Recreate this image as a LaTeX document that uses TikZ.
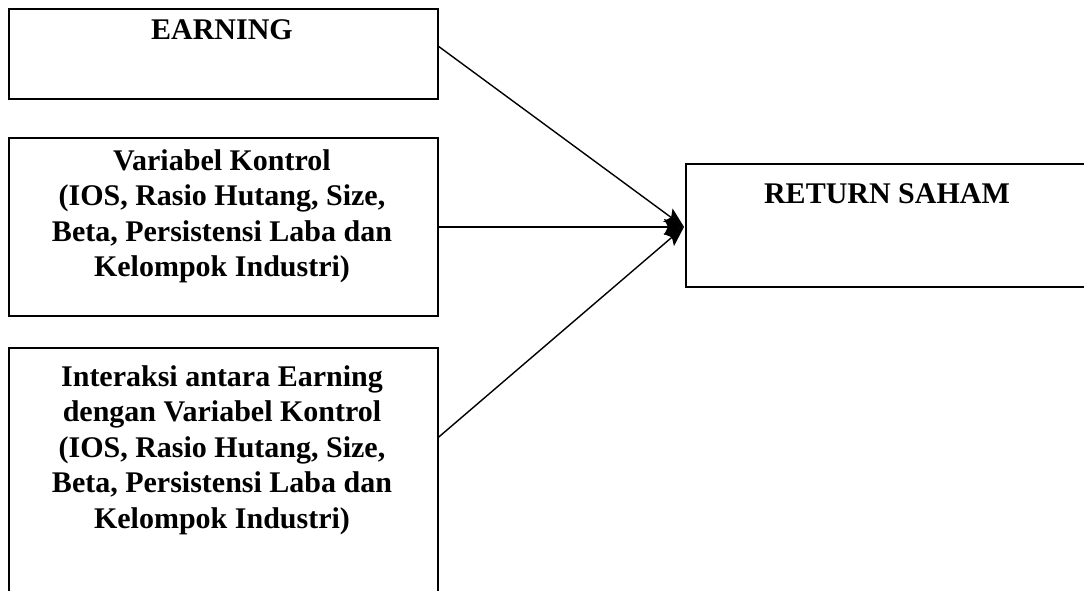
\documentclass[tikz,border=0pt]{standalone}
\usepackage{fontspec}
\setmainfont{Liberation Serif}
\usetikzlibrary{arrows.meta,calc}
\begin{document}
\begin{tikzpicture}[x=1pt,y=-1pt,
  boxline/.style={draw, line width=1.8pt, inner sep=0pt, anchor=north west},
  lbl/.style={anchor=north, inner sep=0pt, align=center, font=\bfseries\fontsize{30}{35.5}\selectfont},
  conn/.style={line width=1.4pt, -{Stealth[length=20pt,width=16pt,inset=4pt]}}]
\useasboundingbox (0,0) rectangle (1084,591);
\begin{scope}
\clip (0,0) rectangle (1084,591);
\node[boxline, minimum width=429pt, minimum height=90pt] (earn) at (8,8) {};
\node[boxline, minimum width=429pt, minimum height=178pt] (var) at (8,137) {};
\node[boxline, minimum width=429pt, minimum height=270pt] (inter) at (8,347) {};
\node[boxline, minimum width=420pt, minimum height=123pt] (ret) at (685,163) {};
\end{scope}
\node[lbl] (tearn) at (222,19) {EARNING};
\node[lbl] (tvar) at (222,149) {Variabel Kontrol\\(IOS, Rasio Hutang, Size,\\Beta, Persistensi Laba dan\\Kelompok Industri)};
\node[lbl] (tinter) at (222,365) {Interaksi antara Earning\\dengan Variabel Kontrol\\(IOS, Rasio Hutang, Size,\\Beta, Persistensi Laba dan\\Kelompok Industri)};
\node[lbl] (tret) at (887,183) {RETURN SAHAM};
\coordinate (s1) at ($(earn.north east)!0.42!(earn.south east)$);
\coordinate (s3) at ([yshift=-90pt]inter.north east);
\coordinate (tip) at ([xshift=-1pt]ret.west |- var.east);
\draw[conn] (s1) -- (tip);
\draw[conn] (var.east) -- (tip);
\draw[conn] (s3) -- (tip);
\end{tikzpicture}
\end{document}
